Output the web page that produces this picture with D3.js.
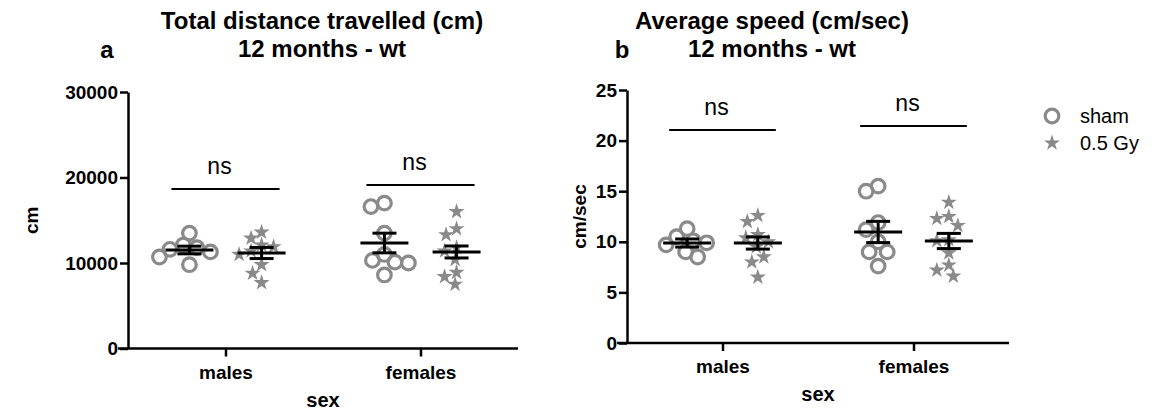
<!DOCTYPE html>
<html>
<head>
<meta charset="utf-8">
<script src="https://cdn.jsdelivr.net/npm/d3@7"></script>
<style>
  body { margin: 0; background: #fff; }
  svg { font-family: "Liberation Sans", Arial, sans-serif; }
</style>
</head>
<body>
<div id="chart-container"></div>
<script>
// Data
const groups = ["males", "females"];
const series = ["sham", "0.5 Gy"];

// panel a: total distance (cm)
const distShamMales = [13500, 12100, 11800, 11600, 11300, 10700, 9800];
const distGyMales = [13600, 12900, 12100, 11900, 11400, 11000, 9800, 8800, 7700];
const distShamFemales = [17000, 16600, 13500, 11000, 10300, 10100, 10000, 8600];
const distGyFemales = [16000, 14000, 13300, 11800, 11400, 10400, 8900, 8400, 7500];
const distMean = [[11520, 11170], [12340, 11290]];
const distSem = [[450, 650], [1150, 700]];
const distNs = [18650, 19120];
const distTicks = [0, 10000, 20000, 30000];

// panel b: average speed (cm/sec)
const speedShamMales = [11.3, 10.5, 10.1, 9.9, 9.7, 9.0, 8.5];
const speedGyMales = [12.6, 12.0, 10.7, 10.4, 10.0, 9.5, 8.5, 8.0, 6.5];
const speedShamFemales = [15.5, 15.0, 11.9, 11.2, 10.0, 9.0, 9.0, 7.6];
const speedGyFemales = [13.9, 12.5, 12.3, 11.6, 10.2, 10.1, 8.9, 7.7, 7.2, 6.6];
const speedMean = [[9.88, 9.88], [10.97, 10.08]];
const speedSem = [[0.4, 0.6], [1.05, 0.75]];
const speedNs = [21.05, 21.44];
const speedTicks = [0, 5, 10, 15, 20, 25];

const grey = "#8a8a8a";

const svg = d3.select("#chart-container")
  .append("svg")
  .attr("width", 1152)
  .attr("height", 412);

// simple deterministic beeswarm: push points sideways until they don't collide
function swarm(values, cx, y, minDist) {
  const placed = [];
  const sorted = values.slice().sort((a, b) => b - a);
  sorted.forEach(v => {
    const py = y(v);
    for (let k = 0; k < 200; k++) {
      const off = (k % 2 === 0 ? 1 : -1) * Math.ceil(k / 2) * 1.5;
      const px = cx + off;
      const ok = placed.every(p => Math.hypot(p.x - px, p.y - py) >= minDist);
      if (ok) { placed.push({ x: px, y: py }); break; }
    }
  });
  return placed;
}

function panel(cfg) {
  const x = d3.scalePoint().domain(groups).range([cfg.x0, cfg.x1]).padding(0.5);
  const y = d3.scaleLinear().domain([0, cfg.max]).range([cfg.y0, cfg.y1]);
  const off = x.step() * cfg.offFrac;
  const g = svg.append("g");

  // axes
  const yAxis = g.append("g")
    .attr("transform", `translate(${cfg.x0},0)`)
    .call(d3.axisLeft(y).tickValues(cfg.ticks).tickSize(8).tickSizeOuter(0).tickFormat(d3.format("d")));
  const xAxis = g.append("g")
    .attr("transform", `translate(0,${cfg.y0})`)
    .call(d3.axisBottom(x).tickSize(8).tickSizeOuter(0));
  [yAxis, xAxis].forEach(a => {
    a.select(".domain").attr("stroke", "#000").attr("stroke-width", 2.5);
    a.selectAll(".tick line").attr("stroke", "#000").attr("stroke-width", 2.5);
    a.selectAll("text").attr("fill", "#000").attr("font-size", 19).attr("font-weight", "bold")
      .attr("font-family", "Liberation Sans, Arial, sans-serif");
  });
  yAxis.selectAll("text").attr("x", -10);
  xAxis.selectAll("text").attr("y", 17);
  xAxis.select(".domain").attr("d", `M${cfg.x0 - 10},0H${cfg.x1}`);

  // points
  cfg.points.forEach((pair, gi) => {
    pair.forEach((vals, si) => {
      const cx = x(groups[gi]) + (si === 0 ? -off : off);
      const pts = swarm(vals, cx, y, si === 0 ? 13 : 12);
      if (si === 0) {
        g.selectAll(null).data(pts).join("circle")
          .attr("cx", d => d.x).attr("cy", d => d.y).attr("r", 6.8)
          .attr("fill", "none").attr("stroke", grey).attr("stroke-width", 3.2);
      } else {
        g.selectAll(null).data(pts).join("path")
          .attr("transform", d => `translate(${d.x},${d.y})`)
          .attr("d", d3.symbol(d3.symbolStar, 80))
          .attr("fill", grey);
      }
      // mean and SEM
      const m = cfg.mean[gi][si], s = cfg.sem[gi][si];
      const eb = g.append("g").attr("stroke", "#000").attr("stroke-width", 3);
      eb.append("line").attr("x1", cx - 24).attr("x2", cx + 24).attr("y1", y(m)).attr("y2", y(m));
      eb.append("line").attr("x1", cx).attr("x2", cx).attr("y1", y(m - s)).attr("y2", y(m + s));
      eb.append("line").attr("x1", cx - 12).attr("x2", cx + 12).attr("y1", y(m - s)).attr("y2", y(m - s));
      eb.append("line").attr("x1", cx - 12).attr("x2", cx + 12).attr("y1", y(m + s)).attr("y2", y(m + s));
    });
    // ns bracket
    const ly = y(cfg.ns[gi]);
    g.append("line")
      .attr("x1", x(groups[gi]) - off - 18).attr("x2", x(groups[gi]) + off + 18)
      .attr("y1", ly).attr("y2", ly).attr("stroke", "#000").attr("stroke-width", 2);
    g.append("text").attr("x", x(groups[gi]) - 6).attr("y", ly - 15)
      .attr("text-anchor", "middle").attr("font-size", 23).text("ns");
  });

  // titles and labels
  const tx = cfg.titleX;
  g.append("text").attr("x", tx).attr("y", 29).attr("text-anchor", "middle")
    .attr("font-size", 24).attr("font-weight", "bold").text(cfg.title);
  g.append("text").attr("x", tx).attr("y", 57).attr("text-anchor", "middle")
    .attr("font-size", 24).attr("font-weight", "bold").text("12 months - wt");
  g.append("text").attr("x", cfg.letterX).attr("y", 58).attr("text-anchor", "middle")
    .attr("font-size", 24).attr("font-weight", "bold").text(cfg.letter);
  g.append("text").attr("transform", `translate(${cfg.ylabX},${(cfg.y0 + cfg.y1) / 2}) rotate(-90)`)
    .attr("text-anchor", "middle").attr("font-size", 19).attr("font-weight", "bold").text(cfg.ylabel);
  g.append("text").attr("x", (cfg.x0 + cfg.x1) / 2).attr("y", cfg.y0 + 58)
    .attr("text-anchor", "middle").attr("font-size", 20).attr("font-weight", "bold").text("sex");
}

panel({
  x0: 128, x1: 518, y0: 348.5, y1: 92, max: 30000, offFrac: 0.185,
  ticks: distTicks, mean: distMean, sem: distSem, ns: distNs,
  points: [[distShamMales, distGyMales], [distShamFemales, distGyFemales]],
  title: "Total distance travelled (cm)", titleX: 322, letter: "a", letterX: 107,
  ylabel: "cm", ylabX: 38
});

panel({
  x0: 627, x1: 1009, y0: 343, y1: 90, max: 25, offFrac: 0.185,
  ticks: speedTicks, mean: speedMean, sem: speedSem, ns: speedNs,
  points: [[speedShamMales, speedGyMales], [speedShamFemales, speedGyFemales]],
  title: "Average speed (cm/sec)", titleX: 772, letter: "b", letterX: 622,
  ylabel: "cm/sec", ylabX: 586
});

// legend
const legend = svg.append("g").attr("transform", "translate(1052,116)");
series.forEach((s, i) => {
  const row = legend.append("g").attr("transform", `translate(0,${i * 27})`);
  if (i === 0) {
    row.append("circle").attr("r", 6.8).attr("fill", "none").attr("stroke", grey).attr("stroke-width", 3.2);
  } else {
    row.append("path").attr("d", d3.symbol(d3.symbolStar, 80)).attr("fill", grey);
  }
  row.append("text").attr("x", 28).attr("y", 7).attr("font-size", 20).text(s);
});
</script>
</body>
</html>
